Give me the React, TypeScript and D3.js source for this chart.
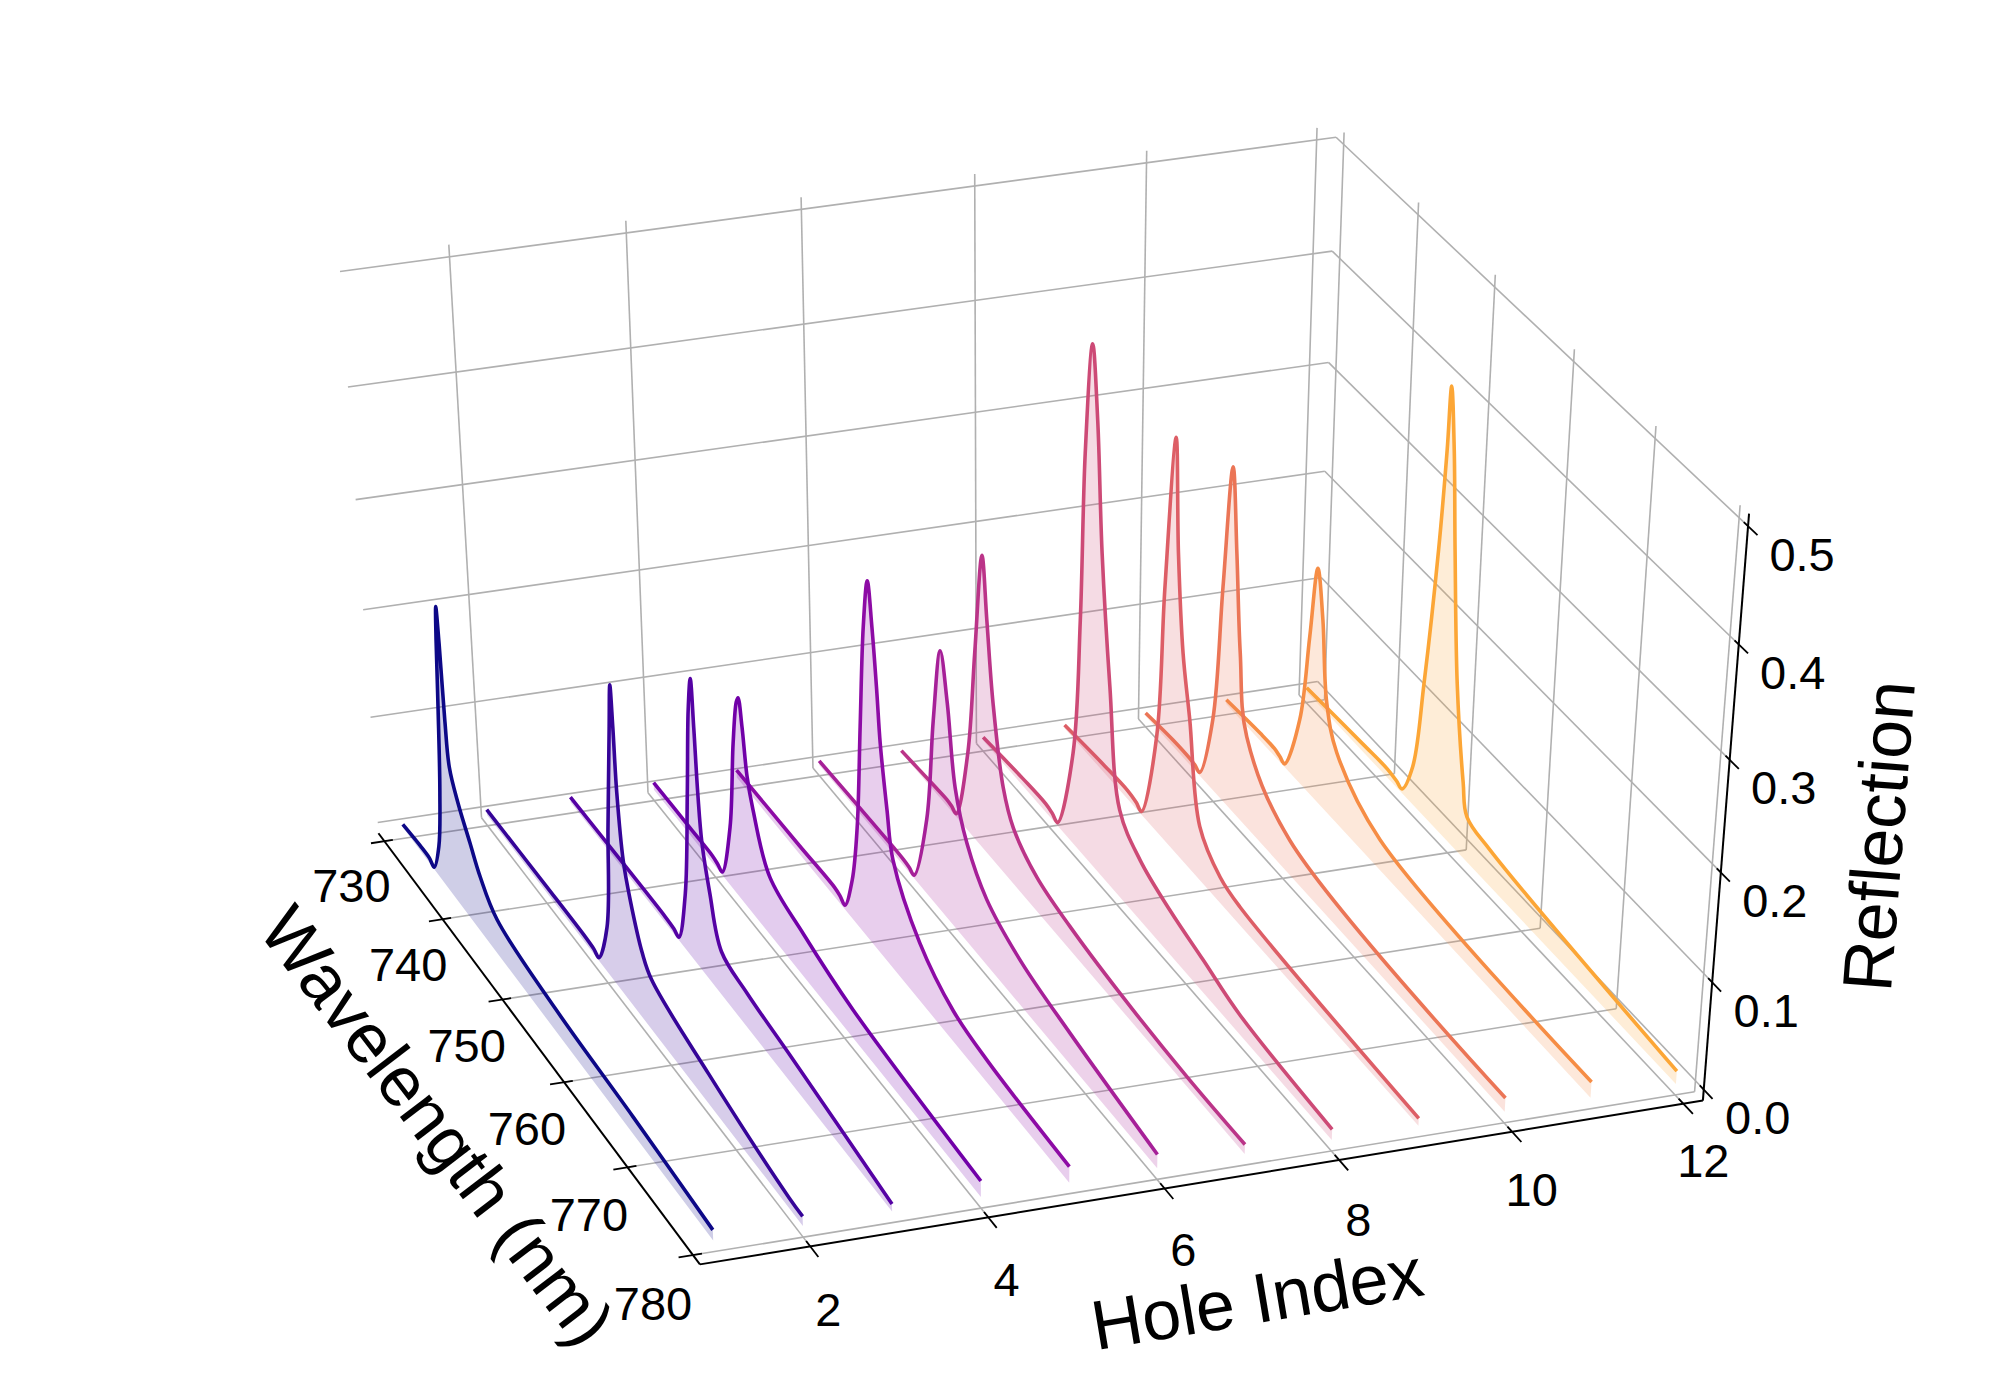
import React from "react";
import * as d3 from "d3";

const W = 2000;
const H = 1400;

const holeExtent: [number, number] = [1, 12];
const wavelengthExtent: [number, number] = [730, 780];
const reflectionExtent: [number, number] = [0, 0.5];

const holeTicks = [2, 4, 6, 8, 10, 12];
const wavelengthTicks = [730, 740, 750, 760, 770, 780];
const reflectionTicks = [0, 0.1, 0.2, 0.3, 0.4, 0.5];

const holes = d3.range(1, 13);

// reflection spectra, [wavelength nm, reflection] per hole index
const spectrum1 = [[730,0.003],[733,0.005],[734.6,0.005],[735.4,0.002],[736.5,0.03],[737.3,0.087],[737.9,0.168],[738.3,0.235],[738.6,0.267],[738.8,0.235],[739,0.165],[739.3,0.125],[740.5,0.1],[742.2,0.076],[743.7,0.055],[746.3,0.034],[755.8,0.022],[767.9,0.017],[780,0.01]];
const spectrum2 = [[730,0.005],[740,0.006],[746.5,0.006],[747.8,0.005],[748.6,0.003],[750.2,0.044],[751.1,0.144],[752,0.241],[752.4,0.282],[752.6,0.246],[752.8,0.188],[753.4,0.13],[754.3,0.1],[755.9,0.064],[757.3,0.049],[766,0.029],[778,0.01],[780,0.009]];
const spectrum3 = [[730,0.005],[740,0.006],[745.5,0.006],[746.9,0.005],[747.7,0.003],[749,0.054],[749.9,0.154],[750.5,0.234],[751,0.266],[751.3,0.224],[751.6,0.166],[752,0.124],[753,0.085],[754.6,0.042],[758.5,0.033],[765.5,0.025],[780,0.007]];
const spectrum4 = [[730,0.007],[736,0.007],[739.5,0.007],[740.4,0.005],[741.1,0.003],[742.6,0.057],[743.5,0.142],[744.2,0.185],[744.5,0.191],[745,0.168],[745.6,0.126],[746.4,0.101],[748.8,0.056],[753.9,0.041],[761.4,0.027],[780,0.015]];
const spectrum5 = [[730,0.007],[740,0.008],[745.5,0.009],[746.4,0.007],[747.1,0.004],[748.3,0.037],[749.2,0.093],[749.9,0.191],[750.6,0.286],[751.3,0.332],[751.9,0.295],[752.5,0.241],[752.9,0.198],[753.8,0.143],[754.6,0.103],[758.5,0.055],[763.4,0.029],[768.3,0.021],[780,0.015]];
const spectrum6 = [[730,0.004],[740,0.006],[743,0.006],[744,0.005],[744.8,0.003],[746.8,0.071],[747.9,0.171],[749,0.242],[750,0.202],[751.1,0.132],[752.8,0.093],[755.7,0.062],[760.6,0.042],[767.8,0.029],[780,0.013]];
const spectrum7 = [[730,0.002],[735,0.005],[737,0.006],[737.8,0.005],[738.5,0.003],[740.3,0.074],[741.4,0.176],[742.5,0.272],[743.2,0.218],[744.1,0.148],[745.6,0.08],[747.1,0.053],[750.6,0.032],[755.4,0.022],[762.6,0.014],[772.1,0.009],[780,0.009]];
const spectrum8 = [[730,0.003],[736,0.007],[739.5,0.008],[740.5,0.006],[741.3,0.003],[743.5,0.085],[744.4,0.215],[744.9,0.368],[745.8,0.469],[746.6,0.408],[747.4,0.296],[748.7,0.184],[750.3,0.081],[753.3,0.056],[757.6,0.041],[762.3,0.03],[767.5,0.018],[780,0.01]];
const spectrum9 = [[730,0.003],[736,0.007],[739.5,0.008],[740.7,0.006],[741.5,0.003],[743.5,0.089],[744.3,0.231],[745.5,0.375],[746.1,0.276],[747,0.191],[748.1,0.138],[749.8,0.05],[752.8,0.024],[755.6,0.017],[780,0.007]];
const spectrum10 = [[730,0.003],[734,0.006],[736.5,0.006],[737.3,0.005],[738,0.003],[739.7,0.066],[740.7,0.197],[741.7,0.313],[742.5,0.24],[743.3,0.154],[744.5,0.084],[750.8,0.032],[780,0.013]];
const spectrum11 = [[730,0.004],[735,0.007],[737,0.007],[737.8,0.005],[738.5,0.003],[740.4,0.059],[741.4,0.144],[742.2,0.213],[743.1,0.172],[744,0.101],[745.6,0.065],[751.8,0.028],[780,0.015]];
const spectrum12 = [[730,0.004],[738,0.007],[741.5,0.008],[742.8,0.006],[743.6,0.004],[744.9,0.035],[745.9,0.121],[747,0.252],[747.5,0.344],[747.7,0.402],[748.4,0.35],[749.1,0.266],[750.2,0.151],[751.6,0.068],[752.3,0.041],[755.5,0.033],[780,0.012]];
const spectra = [spectrum1, spectrum2, spectrum3, spectrum4, spectrum5, spectrum6, spectrum7, spectrum8, spectrum9, spectrum10, spectrum11, spectrum12];

// matplotlib pads 3d limits by 1/48 of the range
const pad = (e: [number, number]): [number, number] => {
  const d = (e[1] - e[0]) / 48;
  return [e[0] - d, e[1] + d];
};
const xBox = pad(holeExtent);
const yBox = pad(wavelengthExtent);
const zBox = pad(reflectionExtent);

type V = number | "lo" | "hi";
// box points (data space) and where they sit on the page, used to fit the camera
const frameAnchors: [V, V, V, number, number][] = [
  ["lo", "hi", "lo", 700, 1265],
  ["hi", "hi", "lo", 1703, 1100],
  ["lo", "lo", "lo", 380, 833],
  ["hi", "hi", "hi", 1749, 514],
  ["hi", "lo", 0.5, 1336, 136],
  [2, "hi", "lo", 808, 1244],
  [12, "hi", "lo", 1683, 1103],
  ["lo", 730, "lo", 383, 843],
  ["lo", 780, "lo", 694, 1256],
  ["hi", 740, "hi", 1418, 203],
  ["hi", 760, "hi", 1573, 350],
  ["hi", 780, "hi", 1739, 506],
  [12, "lo", "hi", 1317, 128],
  ["hi", "hi", 0.5, 1748, 526],
  ["lo", "lo", 0.5, 340, 271],
  [2, "lo", "hi", 449, 244],
  [4, "lo", 0.5, 627, 233],
  ["lo", "lo", 0.4, 348, 387],
  ["hi", "hi", 0.3, 1732, 762],
  ["hi", "hi", 0.4, 1740, 643],
];

const res = (v: V, box: [number, number]) => (v === "lo" ? box[0] : v === "hi" ? box[1] : v);
const nx = (x: number) => (x - xBox[0]) / (xBox[1] - xBox[0]);
const ny = (y: number) => (y - yBox[0]) / (yBox[1] - yBox[0]);
const nz = (z: number) => (z - zBox[0]) / (zBox[1] - zBox[0]);

// least squares fit of a 3x4 perspective camera to the anchors
function fitCamera() {
  const rows: number[][] = [];
  const rhs: number[] = [];
  frameAnchors.forEach(([a, b, c, u, v]) => {
    const X = nx(res(a, xBox)), Y = ny(res(b, yBox)), Z = nz(res(c, zBox));
    const U = (u - 1000) / 1000, Vv = (v - 700) / 1000;
    rows.push([X, Y, Z, 1, 0, 0, 0, 0, -U * X, -U * Y, -U * Z]);
    rhs.push(U);
    rows.push([0, 0, 0, 0, X, Y, Z, 1, -Vv * X, -Vv * Y, -Vv * Z]);
    rhs.push(Vv);
  });
  const n = 11;
  const M = d3.range(n).map((i) =>
    d3.range(n + 1).map((j) =>
      j < n ? d3.sum(rows, (r) => r[i] * r[j]) : d3.sum(rows, (r, k) => r[i] * rhs[k])
    )
  );
  for (let c = 0; c < n; c++) {
    let best = c;
    for (let r = c + 1; r < n; r++) if (Math.abs(M[r][c]) > Math.abs(M[best][c])) best = r;
    [M[c], M[best]] = [M[best], M[c]];
    for (let r = 0; r < n; r++) {
      if (r === c) continue;
      const f = M[r][c] / M[c][c];
      for (let k = c; k <= n; k++) M[r][k] -= f * M[c][k];
    }
  }
  return M.map((r, i) => r[n] / r[i]);
}
const P = fitCamera();

function project(x: number, y: number, z: number): [number, number] {
  const X = nx(x), Y = ny(y), Z = nz(z);
  const w = P[8] * X + P[9] * Y + P[10] * Z + 1;
  const U = (P[0] * X + P[1] * Y + P[2] * Z + P[3]) / w;
  const Vv = (P[4] * X + P[5] * Y + P[6] * Z + P[7]) / w;
  return [U * 1000 + 1000, Vv * 1000 + 700];
}

const seg = (a: [number, number, number], b: [number, number, number]) => {
  const p = project(...a), q = project(...b);
  return { x1: p[0], y1: p[1], x2: q[0], y2: q[1] };
};

const FONT = "'Liberation Sans', Arial, sans-serif";
const GRID = "#b0b0b0";
const color = (i: number) => d3.interpolatePlasma((i / (holes.length - 1)) * 0.8);
const curve = d3.line<[number, number]>().curve(d3.curveCatmullRom.alpha(0.5));

export default function App() {
  const [X0, X1] = xBox, [Y0, Y1] = yBox, [Z0, Z1] = zBox;
  const grid: ReturnType<typeof seg>[] = [];
  holeTicks.forEach((x) => {
    grid.push(seg([x, Y0, Z0], [x, Y0, Z1]));
    grid.push(seg([x, Y0, Z0], [x, Y1, Z0]));
  });
  wavelengthTicks.forEach((y) => {
    grid.push(seg([X1, y, Z0], [X1, y, Z1]));
    grid.push(seg([X0, y, Z0], [X1, y, Z0]));
  });
  reflectionTicks.forEach((z) => {
    grid.push(seg([X0, Y0, z], [X1, Y0, z]));
    grid.push(seg([X1, Y0, z], [X1, Y1, z]));
  });

  const axes = [
    seg([X0, Y0, Z0], [X0, Y1, Z0]),
    seg([X0, Y1, Z0], [X1, Y1, Z0]),
    seg([X1, Y1, Z0], [X1, Y1, Z1]),
  ];
  const ticks = [
    ...wavelengthTicks.map((y) => seg([X0 - 0.16, y, Z0], [X0 + 0.1, y, Z0])),
    ...holeTicks.map((x) => seg([x, Y1 - 0.6, Z0], [x, Y1 + 1.2, Z0])),
    ...reflectionTicks.map((z) => seg([X1, Y1 - 0.5, z], [X1, Y1 + 1.1, z])),
  ];

  const wlOff = d3.scaleLinear().domain(wavelengthExtent).range([0, 1]);
  const hOff = d3.scaleLinear().domain([2, 12]).range([0, 1]);

  const traces = holes.map((h, i) => {
    const pts = spectra[i].map(([w, r]) => project(h, w, r));
    const first = spectra[i][0][0], last = spectra[i][spectra[i].length - 1][0];
    const b1 = project(h, last, 0), b0 = project(h, first, 0);
    return {
      h,
      stroke: color(i),
      line: curve(pts) as string,
      area: `${curve(pts)}L${b1[0]},${b1[1]}L${b0[0]},${b0[1]}Z`,
    };
  });

  return (
    <svg
      width={W}
      height={H}
      viewBox={`0 0 ${W} ${H}`}
      style={{ position: "absolute", left: 0, top: 0, display: "block", background: "#fff" }}
    >
      <g stroke={GRID} strokeWidth={1.6}>
        {grid.map((s, i) => <line key={i} {...s} />)}
      </g>
      {traces.slice().reverse().map((t) => (
        <g key={t.h}>
          <path d={t.area} fill={t.stroke} fillOpacity={0.2} stroke="none" />
          <path d={t.line} fill="none" stroke={t.stroke} strokeWidth={3.6} strokeLinejoin="round" />
        </g>
      ))}
      <g stroke="#000" strokeWidth={2}>
        {axes.map((s, i) => <line key={i} {...s} />)}
        {ticks.map((s, i) => <line key={i} {...s} strokeWidth={1.8} />)}
      </g>
      <g fontFamily={FONT} fontSize={47} textAnchor="middle" dominantBaseline="central">
        {wavelengthTicks.map((y) => {
          const [u, v] = project(X0, y, Z0);
          const t = wlOff(y);
          return <text key={y} x={u - 33 - 7 * t} y={v + 44 + 4 * t}>{y}</text>;
        })}
        {holeTicks.map((x) => {
          const [u, v] = project(x, Y1, Z0);
          const t = hOff(x);
          return <text key={x} x={u + 18 + 2 * t} y={v + 63 - 6 * t}>{x}</text>;
        })}
        {reflectionTicks.map((z) => {
          const [u, v] = project(X1, Y1, z);
          return <text key={z} x={u + 54} y={v + 28}>{z.toFixed(1)}</text>;
        })}
      </g>
      <g fontFamily={FONT} fontSize={70} textAnchor="middle" dominantBaseline="central">
        <text transform="translate(437,1126) rotate(52.5)">Wavelength (nm)</text>
        <text transform="translate(1257,1299) rotate(-9.5)">Hole Index</text>
        <text transform="translate(1879,836) rotate(-85.5)">Reflection</text>
      </g>
    </svg>
  );
}
